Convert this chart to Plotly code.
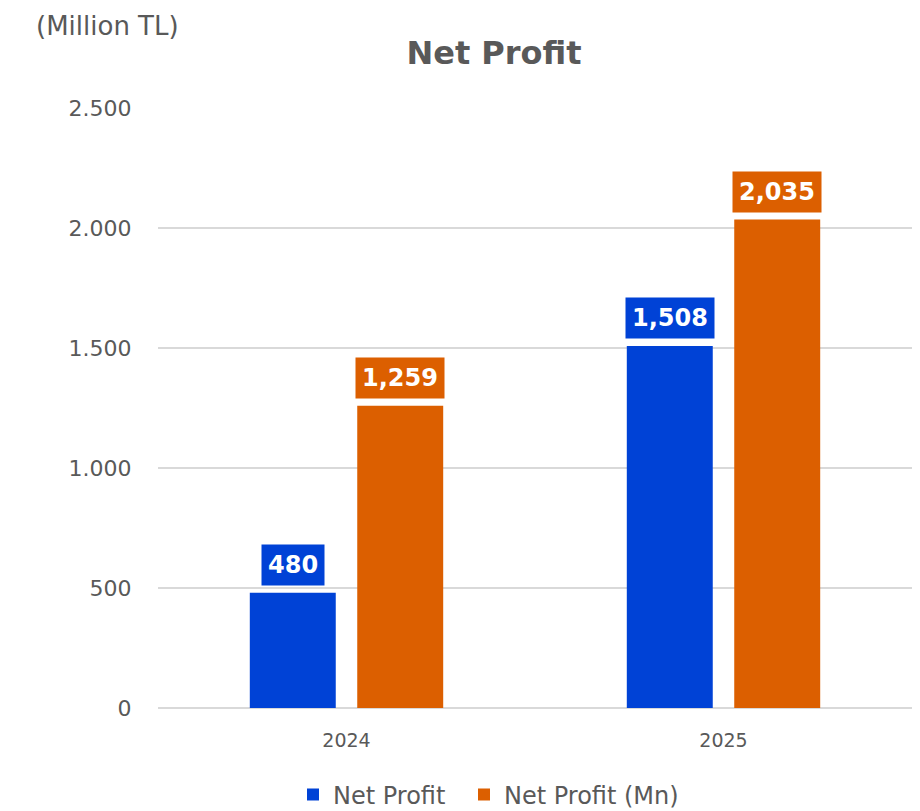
import plotly.graph_objects as go

categories = ["2024", "2025"]
net_profit = [480, 1508]
net_profit_mn = [1259, 2035]
series_names = ["Net Profit", "Net Profit (Mn)"]
y_tickvals = [0, 500, 1000, 1500, 2000, 2500]
y_ticktext = ["0", "500", "1.000", "1.500", "2.000", "2.500"]

blue = "#0042d6"
orange = "#dc5f00"
grey = "#595959"
font_family = "'DejaVu Sans', 'Open Sans', sans-serif"

# page has an 8px body margin; figure drawn at 912x803 offset by 8px
OFF = 8
W, H = 920 - OFF, 811 - OFF
L, R, T, B = 158 - OFF, 912 - OFF, 108 - OFF, 708 - OFF  # plot area in figure px
PW, PH = R - L, B - T

fig = go.Figure()
fig.add_trace(go.Bar(x=categories, y=net_profit, name=series_names[0],
                     legend="legend", showlegend=True,
                     marker=dict(color=blue, line=dict(width=0))))
fig.add_trace(go.Bar(x=categories, y=net_profit_mn, name=series_names[1],
                     legend="legend2", showlegend=True,
                     marker=dict(color=orange, line=dict(width=0))))

annotations = []
for vals, shift, col in [(net_profit, -54, blue), (net_profit_mn, 53, orange)]:
    for i, v in enumerate(vals):
        annotations.append(dict(
            x=i, y=v, xref="x", yref="y", xshift=shift, yshift=7,
            yanchor="bottom", text=f"<b>{v:,}</b>", showarrow=False,
            font=dict(family=font_family, size=24, color="white"),
            bgcolor=col, borderpad=6))

annotations.append(dict(
    x=(34 - OFF - L) / PW, y=(B - (26 - OFF)) / PH, xref="paper", yref="paper",
    text="(Million TL)", showarrow=False, xanchor="left", yanchor="middle",
    font=dict(family=font_family, size=26, color=grey)))

legend_common = dict(orientation="h", xanchor="left",
                     y=(B - (795 - OFF)) / PH, yanchor="middle",
                     font=dict(size=24, color=grey), itemwidth=30,
                     bgcolor="rgba(0,0,0,0)")

fig.update_layout(
    width=W, height=H, showlegend=True,
    margin=dict(l=L, r=W - R, t=T, b=H - B, autoexpand=False),
    paper_bgcolor="white", plot_bgcolor="white",
    barmode="group", bargap=0.43, bargroupgap=0.2,
    title=dict(text="<b>Net Profit</b>", x=(494 - OFF) / W, xanchor="center",
               y=1 - (53 - OFF) / H, yanchor="middle",
               font=dict(family=font_family, size=32, color=grey)),
    font=dict(family=font_family, color=grey),
    yaxis=dict(range=[0, 2500], tickvals=y_tickvals, ticktext=y_ticktext,
               showgrid=True, gridcolor="#d9d9d9", gridwidth=2,
               zeroline=True, zerolinecolor="#d9d9d9", zerolinewidth=2,
               ticks="outside", ticklen=21, tickcolor="rgba(0,0,0,0)",
               tickfont=dict(size=22, color=grey), showline=False),
    xaxis=dict(type="category", range=[-0.5, 1.5], ticks="outside", ticklen=15,
               tickcolor="rgba(0,0,0,0)",
               tickfont=dict(size=19, color=grey), showline=False),
    legend=dict(x=(293 - OFF - L) / PW, **legend_common),
    legend2=dict(x=(464 - OFF - L) / PW, **legend_common),
    annotations=annotations,
)

fig.write_html("out.html")
